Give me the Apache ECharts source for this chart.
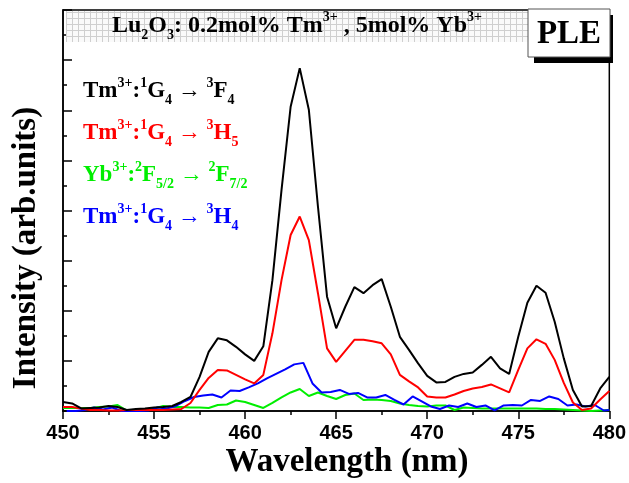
<!DOCTYPE html>
<html>
<head>
<meta charset="utf-8">
<script src="https://cdn.jsdelivr.net/npm/echarts@6/dist/echarts.min.js"></script>
<style>
  html, body { margin: 0; padding: 0; background: #fff; }
  #chart { width: 629px; height: 483px; }
</style>
</head>
<body>
<div id="chart"></div>
<script>
// wavelength grid (nm) for the Tm 3F4 / 3H5 and Yb curves
const wavelength = [
  450, 450.5, 451, 451.5, 452, 452.5, 453, 453.5, 454, 454.5,
  455, 455.5, 456, 456.5, 457, 457.5, 458, 458.5, 459, 459.5,
  460, 460.5, 461, 461.5, 462, 462.5, 463, 463.5, 464, 464.5,
  465, 465.5, 466, 466.5, 467, 467.5, 468, 468.5, 469, 469.5,
  470, 470.5, 471, 471.5, 472, 472.5, 473, 473.5, 474, 474.5,
  475, 475.5, 476, 476.5, 477, 477.5, 478, 478.5, 479, 479.5, 480
];
// Tm3+: 1G4 -> 3F4 (black)
const tmF4 = [
  0.18, 0.15, 0.05, 0.06, 0.07, 0.10, 0.08, 0.02, 0.04, 0.05,
  0.07, 0.08, 0.10, 0.18, 0.28, 0.68, 1.18, 1.45, 1.41, 1.28,
  1.13, 1.00, 1.29, 2.61, 4.41, 6.07, 6.84, 6.01, 4.08, 2.28,
  1.65, 2.08, 2.47, 2.35, 2.51, 2.63, 2.08, 1.48, 1.22, 0.95,
  0.70, 0.57, 0.58, 0.68, 0.74, 0.77, 0.92, 1.08, 0.85, 0.74,
  1.48, 2.16, 2.50, 2.36, 1.78, 1.05, 0.42, 0.09, 0.10, 0.45, 0.68
];
// Tm3+: 1G4 -> 3H5 (red)
const tmH5 = [
  0.08, 0.08, 0.05, 0.02, 0.02, 0.01, 0.01, 0.02, 0.02, 0.02,
  0.02, 0.02, 0.03, 0.04, 0.16, 0.42, 0.66, 0.82, 0.81, 0.72,
  0.63, 0.55, 0.72, 1.55, 2.61, 3.51, 3.88, 3.41, 2.35, 1.25,
  0.98, 1.20, 1.42, 1.42, 1.39, 1.35, 1.13, 0.72, 0.59, 0.47,
  0.29, 0.27, 0.27, 0.33, 0.40, 0.45, 0.48, 0.53, 0.45, 0.37,
  0.82, 1.25, 1.43, 1.34, 1.02, 0.56, 0.17, 0.02, 0.05, 0.23, 0.40
];
// Yb3+: 2F5/2 -> 2F7/2 (green)
const ybF72 = [
  0.06, 0.06, 0.06, 0.06, 0.08, 0.09, 0.12, 0.01, 0.02, 0.03,
  0.05, 0.10, 0.08, 0.08, 0.07, 0.07, 0.06, 0.12, 0.13, 0.21,
  0.18, 0.12, 0.06, 0.16, 0.27, 0.37, 0.44, 0.30, 0.37, 0.30,
  0.24, 0.32, 0.35, 0.22, 0.23, 0.22, 0.20, 0.15, 0.12, 0.10,
  0.09, 0.11, 0.11, 0.02, 0.07, 0.06, 0.05, 0.05, 0.05, 0.05,
  0.05, 0.05, 0.05, 0.04, 0.04, 0.03, 0.02, 0.01, 0.00, 0.01, 0.02
];
// Tm3+: 1G4 -> 3H4 (blue) was sampled on a slightly shifted grid
const wavelengthH4 = [
  450.2, 450.7, 451.2, 451.7, 452.2, 452.7, 453.2, 453.7, 454.2, 454.7,
  455.2, 455.7, 456.2, 456.7, 457.2, 457.7, 458.2, 458.7, 459.2, 459.7,
  460.2, 460.7, 461.2, 461.7, 462.2, 462.7, 463.2, 463.7, 464.2, 464.7,
  465.2, 465.7, 466.2, 466.7, 467.2, 467.7, 468.2, 468.7, 469.2, 469.7,
  470.2, 470.7, 471.2, 471.7, 472.2, 472.7, 473.2, 473.7, 474.2, 474.7,
  475.2, 475.7, 476.2, 476.7, 477.2, 477.7, 478.2, 478.7, 479.2, 479.7, 480
];
const tmH4 = [
  0.00, 0.00, 0.02, 0.07, 0.03, 0.07, 0.00, 0.00, 0.00, 0.01,
  0.07, 0.05, 0.10, 0.20, 0.28, 0.31, 0.33, 0.27, 0.41, 0.40,
  0.47, 0.55, 0.65, 0.74, 0.83, 0.93, 0.96, 0.55, 0.37, 0.38,
  0.42, 0.34, 0.36, 0.27, 0.27, 0.32, 0.22, 0.13, 0.29, 0.19,
  0.09, 0.04, 0.11, 0.08, 0.15, 0.08, 0.11, 0.01, 0.11, 0.12,
  0.11, 0.22, 0.20, 0.29, 0.24, 0.11, 0.13, 0.09, 0.12, 0.01, 0.02
];
const xTicks = [450, 455, 460, 465, 470, 475, 480];

const serif = '"Liberation Serif", "Times New Roman", "DejaVu Serif", serif';
const sans = '"Liberation Sans", Arial, sans-serif';

// little grid pattern behind the sample title
const cell = document.createElement('canvas');
cell.width = 6; cell.height = 6;
const cx = cell.getContext('2d');
cx.fillStyle = '#fafafa';
cx.fillRect(0, 0, 6, 6);
cx.fillStyle = '#cfcfcf';
cx.fillRect(0, 0, 6, 1);
cx.fillRect(0, 0, 1, 6);

const pair = (xs, ys) => xs.map((x, i) => [x, ys[i]]);

// rich styles for super/subscripts
function richStyles(size, color) {
  return {
    m: { fontFamily: serif, fontWeight: 'bold', fontSize: size, lineHeight: Math.round(size * 1.35), fill: color },
    sup: { fontFamily: serif, fontWeight: 'bold', fontSize: Math.round(size * 0.6), lineHeight: Math.round(size * 0.6), verticalAlign: 'top', fill: color },
    sub: { fontFamily: serif, fontWeight: 'bold', fontSize: Math.round(size * 0.6), lineHeight: Math.round(size * 0.6), verticalAlign: 'bottom', fill: color }
  };
}

function label(text, x, y, color) {
  return {
    type: 'text', left: x, top: y, z: 10,
    style: { text: text, rich: richStyles(23, color), fill: color }
  };
}

const chart = echarts.init(document.getElementById('chart'));
chart.setOption({
  backgroundColor: '#fff',
  animation: false,
  grid: {
    left: 63, right: 17, top: 10, bottom: 72,
    show: true, borderColor: '#000', borderWidth: 1.5
  },
  xAxis: {
    type: 'value', min: 450, max: 480, interval: 5,
    axisLine: { lineStyle: { color: '#000', width: 1.5 } },
    axisTick: { inside: false, length: 8, lineStyle: { color: '#000', width: 1.5 } },
    minorTick: { show: true, splitNumber: 2, length: 4, lineStyle: { color: '#000', width: 1.5 } },
    axisLabel: {
      fontFamily: sans, fontWeight: 'bold', fontSize: 20, color: '#000', margin: 12,
      formatter: v => (xTicks.indexOf(v) >= 0 ? String(v) : '')
    },
    splitLine: { show: false }
  },
  yAxis: {
    type: 'value', min: 0, max: 8, interval: 1,
    axisLine: { lineStyle: { color: '#000', width: 1.5 } },
    axisTick: { inside: true, length: 9, lineStyle: { color: '#000', width: 1.5 } },
    minorTick: { show: true, splitNumber: 2, length: 4, lineStyle: { color: '#000', width: 1.5 } },
    axisLabel: { show: false },
    splitLine: { show: false }
  },
  series: [
    { name: 'Yb 2F7/2', type: 'line', data: pair(wavelength, ybF72), showSymbol: false,
      lineStyle: { color: '#00ee00', width: 2 }, itemStyle: { color: '#00ee00' } },
    { name: 'Tm 3H4', type: 'line', data: pair(wavelengthH4, tmH4), showSymbol: false,
      lineStyle: { color: '#0000ff', width: 2 }, itemStyle: { color: '#0000ff' } },
    { name: 'Tm 3H5', type: 'line', data: pair(wavelength, tmH5), showSymbol: false,
      lineStyle: { color: '#ff0000', width: 2 }, itemStyle: { color: '#ff0000' } },
    { name: 'Tm 3F4', type: 'line', data: pair(wavelength, tmF4), showSymbol: false,
      lineStyle: { color: '#000000', width: 2 }, itemStyle: { color: '#000000' } }
  ],
  graphic: [
    // axis titles
    { type: 'text', x: 26, y: 248, rotation: Math.PI / 2, z: 10,
      style: { text: 'Intensity (arb.units)', fontFamily: serif, fontWeight: 'bold', fontSize: 33,
        fill: '#000', align: 'center', verticalAlign: 'middle' } },
    { type: 'text', x: 347, y: 462, z: 10,
      style: { text: 'Wavelength (nm)', fontFamily: serif, fontWeight: 'bold', fontSize: 33,
        fill: '#000', align: 'center', verticalAlign: 'middle' } },
    // sample title over the grid pattern
    { type: 'rect', shape: { x: 66, y: 11, width: 462, height: 31 }, z: 5,
      style: { fill: { image: cell, repeat: 'repeat' }, stroke: null } },
    { type: 'text', x: 297, y: 26, z: 10,
      style: {
        text: '{m|Lu}{sub|2}{m|O}{sub|3}{m|: 0.2mol% Tm}{sup|3+}{m| , 5mol% Yb}{sup|3+}',
        rich: richStyles(24, '#000'), align: 'center', verticalAlign: 'middle'
      } },
    // PLE tag with drop shadow
    { type: 'rect', shape: { x: 534, y: 15, width: 79, height: 48 }, z: 6,
      style: { fill: '#000' } },
    { type: 'rect', shape: { x: 528, y: 9, width: 82, height: 48 }, z: 7,
      style: { fill: '#fff', stroke: '#555', lineWidth: 1 } },
    { type: 'text', x: 569, y: 34, z: 10,
      style: { text: 'PLE', fontFamily: serif, fontWeight: 'bold', fontSize: 33,
        fill: '#000', align: 'center', verticalAlign: 'middle' } },
    // transition labels
    label('{m|Tm}{sup|3+}{m|:}{sup|1}{m|G}{sub|4}{m| → }{sup|3}{m|F}{sub|4}', 83, 76, '#000'),
    label('{m|Tm}{sup|3+}{m|:}{sup|1}{m|G}{sub|4}{m| → }{sup|3}{m|H}{sub|5}', 83, 118, '#ff0000'),
    label('{m|Yb}{sup|3+}{m|:}{sup|2}{m|F}{sub|5/2}{m| → }{sup|2}{m|F}{sub|7/2}', 83, 160, '#00ee00'),
    label('{m|Tm}{sup|3+}{m|:}{sup|1}{m|G}{sub|4}{m| → }{sup|3}{m|H}{sub|4}', 83, 202, '#0000ff')
  ]
});
</script>
</body>
</html>
